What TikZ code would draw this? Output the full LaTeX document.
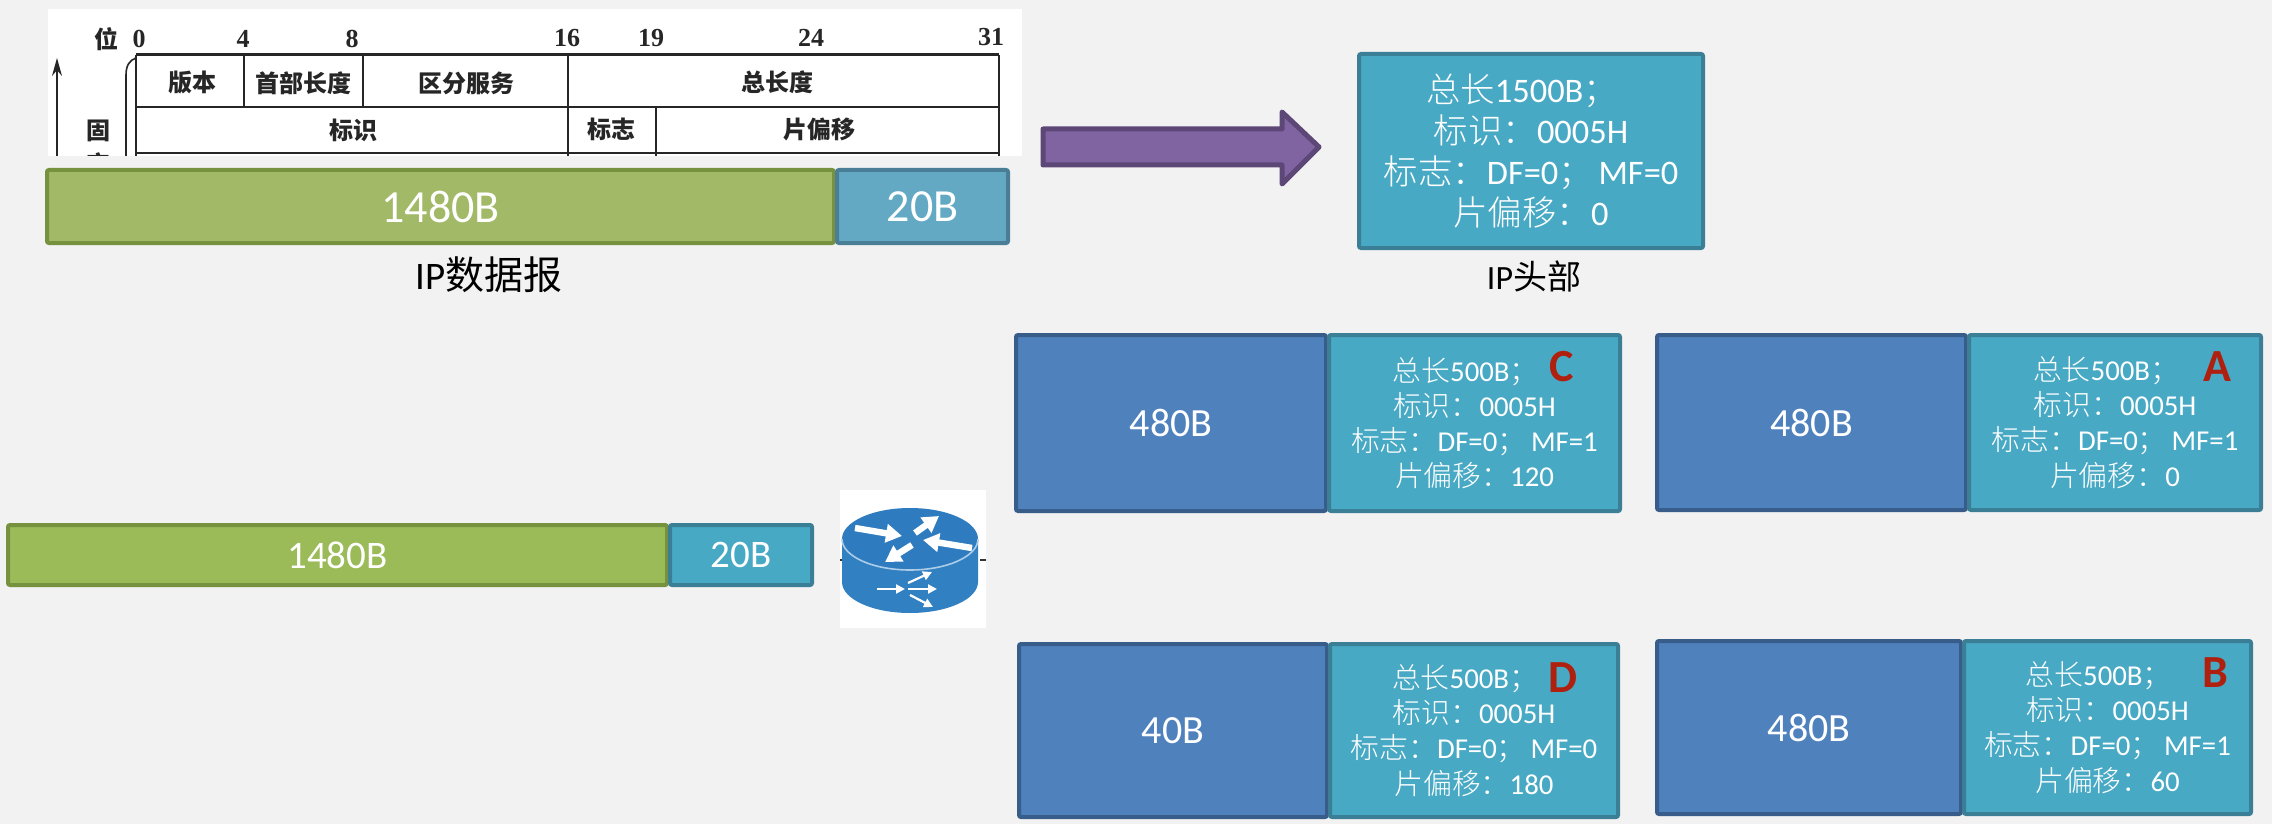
\documentclass[tikz,border=0pt]{standalone}
\usepackage{fontspec}
\setmainfont{Carlito}
\newfontfamily\cjk{Noto Sans CJK SC}
\IfFontExistsTF{Noto Sans CJK SC Light}{\newfontfamily\cjkl{Noto Sans CJK SC Light}}{\newfontfamily\cjkl{Noto Sans CJK SC}}
\newfontfamily\tabnum{Liberation Serif}
\usetikzlibrary{arrows.meta}
\definecolor{bgc}{HTML}{F2F2F2}
\definecolor{grnA}{HTML}{A2BA68}
\definecolor{grnB}{HTML}{9BBB59}
\definecolor{grnE}{HTML}{76923F}
\definecolor{tealA}{HTML}{63A9C4}
\definecolor{tealAE}{HTML}{4A7D96}
\definecolor{tealB}{HTML}{48A9C5}
\definecolor{tealE}{HTML}{3B7F96}
\definecolor{bluF}{HTML}{4F81BD}
\definecolor{bluE}{HTML}{385D8A}
\definecolor{purF}{HTML}{8064A2}
\definecolor{purE}{HTML}{5C4776}
\definecolor{redL}{HTML}{B0200F}
\definecolor{rout}{HTML}{3180C2}
\definecolor{routT}{HTML}{2E7CBF}
\newcommand{\cn}[1]{{\cjk #1}}
\newcommand{\cl}[1]{{\cjkl #1}}
\newcommand{\fs}[2]{\fontsize{#1}{#2}\selectfont}
% \pbox{name}{x1}{y1}{x2}{y2}{style}{text}: box given by outer edges in reference pixels
\newcommand{\pbox}[7]{\node[#6,minimum width={(#4-#2-4)*0.5pt},minimum height={(#5-#3-4)*0.5pt}] (#1) at ({(#2+#4)/2},{(#3+#5)/2}) {#7};}
\newcommand{\hdr}[4]{\cl{总长}#1\cl{；}\hspace*{#4}\\\cl{标识：}0005H\\\cl{标志：}DF=0\cl{；}\,MF=#2\\\cl{片偏移：}#3}
\tikzset{
  bar/.style={draw,line width=2pt,rounded corners=1pt,inner sep=0pt,text=white,align=center},
  greenA/.style={bar,fill=grnA,draw=grnE,font=\fs{23}{26}},
  tealAbox/.style={bar,fill=tealA,draw=tealAE,font=\fs{23}{26}},
  greenB/.style={bar,fill=grnB,draw=grnE,font=\fs{19.5}{23}},
  tealBar/.style={bar,fill=tealB,draw=tealE,font=\fs{19.5}{23}},
  payload/.style={bar,fill=bluF,draw=bluE,font=\fs{20}{23}},
  header/.style={bar,fill=tealB,draw=tealE,font=\fs{14.4}{17.6}},
  bigheader/.style={bar,fill=tealB,draw=tealE,font=\fs{17.2}{20.5}},
  letter/.style={text=redL,font=\fs{23}{26}\bfseries,inner sep=0pt},
  caption/.style={text=black,inner sep=0pt},
  tcell/.style={inner sep=0pt,text=black!85,font=\cjk\fs{12}{14}\bfseries},
  tnum/.style={inner sep=0pt,text=black!85,font=\tabnum\fs{13}{15}\bfseries},
  tline/.style={black!85,line width=1pt},
  rarrow/.style={white,line width=3.2pt,-{Triangle[length=8pt,width=9pt]}},
  rarrowthin/.style={white,line width=1.1pt,-{Triangle[length=4.5pt,width=4.5pt]}},
}
\begin{document}
\begin{tikzpicture}[x=0.5pt,y=-0.5pt]
\useasboundingbox (0,0) rectangle (2272,824);
\fill[bgc] (0,0) rectangle (2272,824);
% header table picture
\fill[white] (48,9) rectangle (1022,156);
\begin{scope}
\clip (48,9) rectangle (1022,156);
\draw[tline,line width=1.5pt] (136,55) -- (999,55);
\draw[tline,line width=1.3pt] (136,107) -- (999,107);
\draw[tline,line width=1.2pt] (136,153) -- (999,153);
\draw[tline] (136,55) -- (136,156);
\draw[tline] (999,55) -- (999,156);
\draw[tline] (244,55) -- (244,107);
\draw[tline] (363,55) -- (363,107);
\draw[tline] (568,55) -- (568,156);
\draw[tline] (656,107) -- (656,156);
\draw[tline,line width=.8pt] (126,156) -- (126,75) .. controls (126,65) and (130,60) .. (136,58);
\draw[tline,line width=.8pt,-{Stealth[length=9pt,width=5pt]}] (57,156) -- (57,58);
\node[tcell] (fix2) at (98,164) {定};
\end{scope}
\node[tcell] (wei) at (106,39) {位};
\node[tcell] (fix1) at (98,131) {固};
\node[tnum] (n0) at (139,39) {0};
\node[tnum] (n4) at (243,39) {4};
\node[tnum] (n8) at (352,39) {8};
\node[tnum] (n16) at (567,38) {16};
\node[tnum] (n19) at (651,38) {19};
\node[tnum] (n24) at (811,38) {24};
\node[tnum] (n31) at (991,37) {31};
\node[tcell] (c1) at (192,83) {版本};
\node[tcell] (c2) at (303,83) {首部长度};
\node[tcell] (c3) at (466,83) {区分服务};
\node[tcell] (c4) at (777,82) {总长度};
\node[tcell] (c5) at (353,130) {标识};
\node[tcell] (c6) at (611,129) {标志};
\node[tcell] (c7) at (819,129) {片偏移};
% top datagram
\pbox{topdata}{45}{168}{836}{245}{greenA}{1480B}
\pbox{tophead}{835}{168}{1010}{245}{tealAbox}{20B}
\node[caption,font=\fs{19.5}{23}] (capA) at (489,275) {IP\cn{数据报}};
% purple arrow
\draw[purE,fill=purF,line width=2.5pt,line join=round]
  (1043,129) -- (1282,129) -- (1282,112) -- (1319,147) -- (1282,184) -- (1282,165) -- (1043,165) -- cycle;
% IP header box
\pbox{iphead}{1357}{52}{1705}{250}{bigheader}{\hdr{1500B}{0}{0}{9pt}}
\node[caption,font=\fs{17}{20}] (capB) at (1534,276) {IP\cn{头部}};
% second datagram
\pbox{data2}{6}{523}{669}{587}{greenB}{1480B}
\pbox{head2}{668}{523}{814}{587}{tealBar}{20B}
% router
\fill[white] (840,490) rectangle (986,628);
\coordinate (stubL) at (840,560);
\coordinate (stubR) at (986,560);
\coordinate (stubLi) at (846,560);
\coordinate (stubRi) at (980,560);
\draw[black!80,line width=1.2pt] (stubL) -- (stubLi);
\draw[black!80,line width=1.2pt] (stubRi) -- (stubR);
\fill[rout] (842,539) -- (842,582) arc[start angle=180,end angle=0,x radius=68,y radius=31] -- (978,539) -- cycle;
\fill[routT] (910,539) ellipse [x radius=68,y radius=31];
\draw[white!60!rout,line width=.8pt] (842,539) arc[start angle=180,end angle=0,x radius=68,y radius=31];
\draw[rarrow] (855,528) -- (902,536);
\draw[rarrow] (915,533) -- (939,516);
\draw[rarrow] (972,548) -- (923,540);
\draw[rarrow] (912,545) -- (885,562);
\draw[rarrowthin] (877,589) -- (905,589);
\draw[rarrowthin] (908,589) -- (937,589);
\draw[rarrowthin] (908,583) -- (932,572);
\draw[rarrowthin] (910,595) -- (933,607);
% fragments
\pbox{payC}{1014}{333}{1328}{513}{payload}{480B}
\pbox{hdC}{1327}{333}{1622}{513}{header}{\hdr{500B}{1}{120}{9pt}}
\node[letter] (lC) at (1562,367) {C};
\pbox{payA}{1655}{333}{1968}{512}{payload}{480B}
\pbox{hdA}{1967}{333}{2263}{512}{header}{\hdr{500B}{1}{0}{9pt}}
\node[letter] (lA) at (2217,367) {A};
\pbox{payD}{1017}{642}{1329}{819}{payload}{40B}
\pbox{hdD}{1328}{642}{1620}{819}{header}{\hdr{500B}{0}{180}{9pt}}
\node[letter] (lD) at (1563,678) {D};
\pbox{payB}{1655}{639}{1963}{816}{payload}{480B}
\pbox{hdB}{1962}{639}{2253}{816}{header}{\hdr{500B}{1}{60}{9pt}}
\node[letter] (lB) at (2215,673) {B};
\end{tikzpicture}
\end{document}
